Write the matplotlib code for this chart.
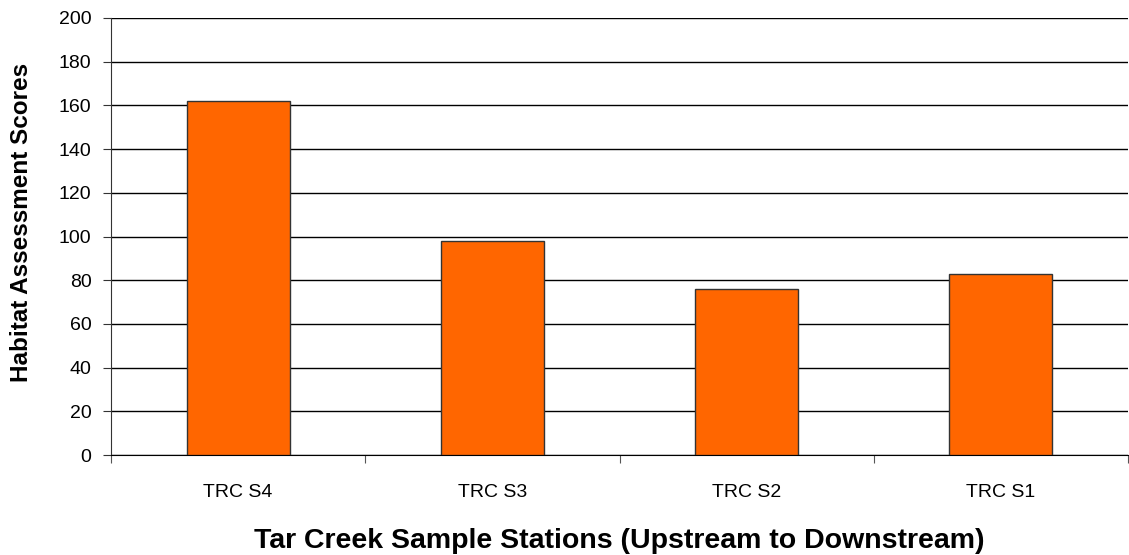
import matplotlib
matplotlib.use("Agg")
import matplotlib.pyplot as plt
import numpy as np

stations = ["TRC S4", "TRC S3", "TRC S2", "TRC S1"]
scores = [162, 98, 76, 83]
yticks = [0, 20, 40, 60, 80, 100, 120, 140, 160, 180, 200]

plt.rcParams['font.family'] = ['Liberation Sans', 'DejaVu Sans']

fig = plt.figure(figsize=(11.29, 5.55), dpi=100)
ax = fig.add_axes([111 / 1129, 1 - 455 / 555, 1017 / 1129, 437 / 555])

x = np.arange(len(stations))
ax.bar(x, scores, width=0.405, color="#FF6600", edgecolor="#333333",
       linewidth=1.0, zorder=3)

ax.set_xlim(-0.5, len(stations) - 0.5)
ax.set_ylim(0, 200)
ax.set_yticks(yticks)
ax.yaxis.grid(True, color="black", linewidth=1.0, zorder=0)
ax.set_axisbelow(True)

for side in ("top", "right"):
    ax.spines[side].set_visible(False)
ax.spines["left"].set_color("#333333")
ax.spines["bottom"].set_color("black")

# category boundary ticks on the x axis, labels centred under bars
ax.set_xticks(np.arange(-0.5, len(stations) - 0.4, 1.0))
ax.set_xticklabels([])
ax.set_xticks(x, minor=True)
ax.set_xticklabels(stations, minor=True)
ax.tick_params(axis="x", which="major", length=6, direction="out", color="#555555")
ax.tick_params(axis="x", which="minor", length=0, pad=21, labelsize=14)
ax.tick_params(axis="y", length=6, direction="out", labelsize=14, pad=8, color="#333333")

ax.set_xlabel("Tar Creek Sample Stations (Upstream to Downstream)",
              fontsize=20.5, fontweight="bold", labelpad=19)
ax.set_ylabel("Habitat Assessment Scores", fontsize=17.5, fontweight="bold")
ax.yaxis.set_label_coords(-0.0765, 0.533)

fig.savefig("out.png", dpi=100)
